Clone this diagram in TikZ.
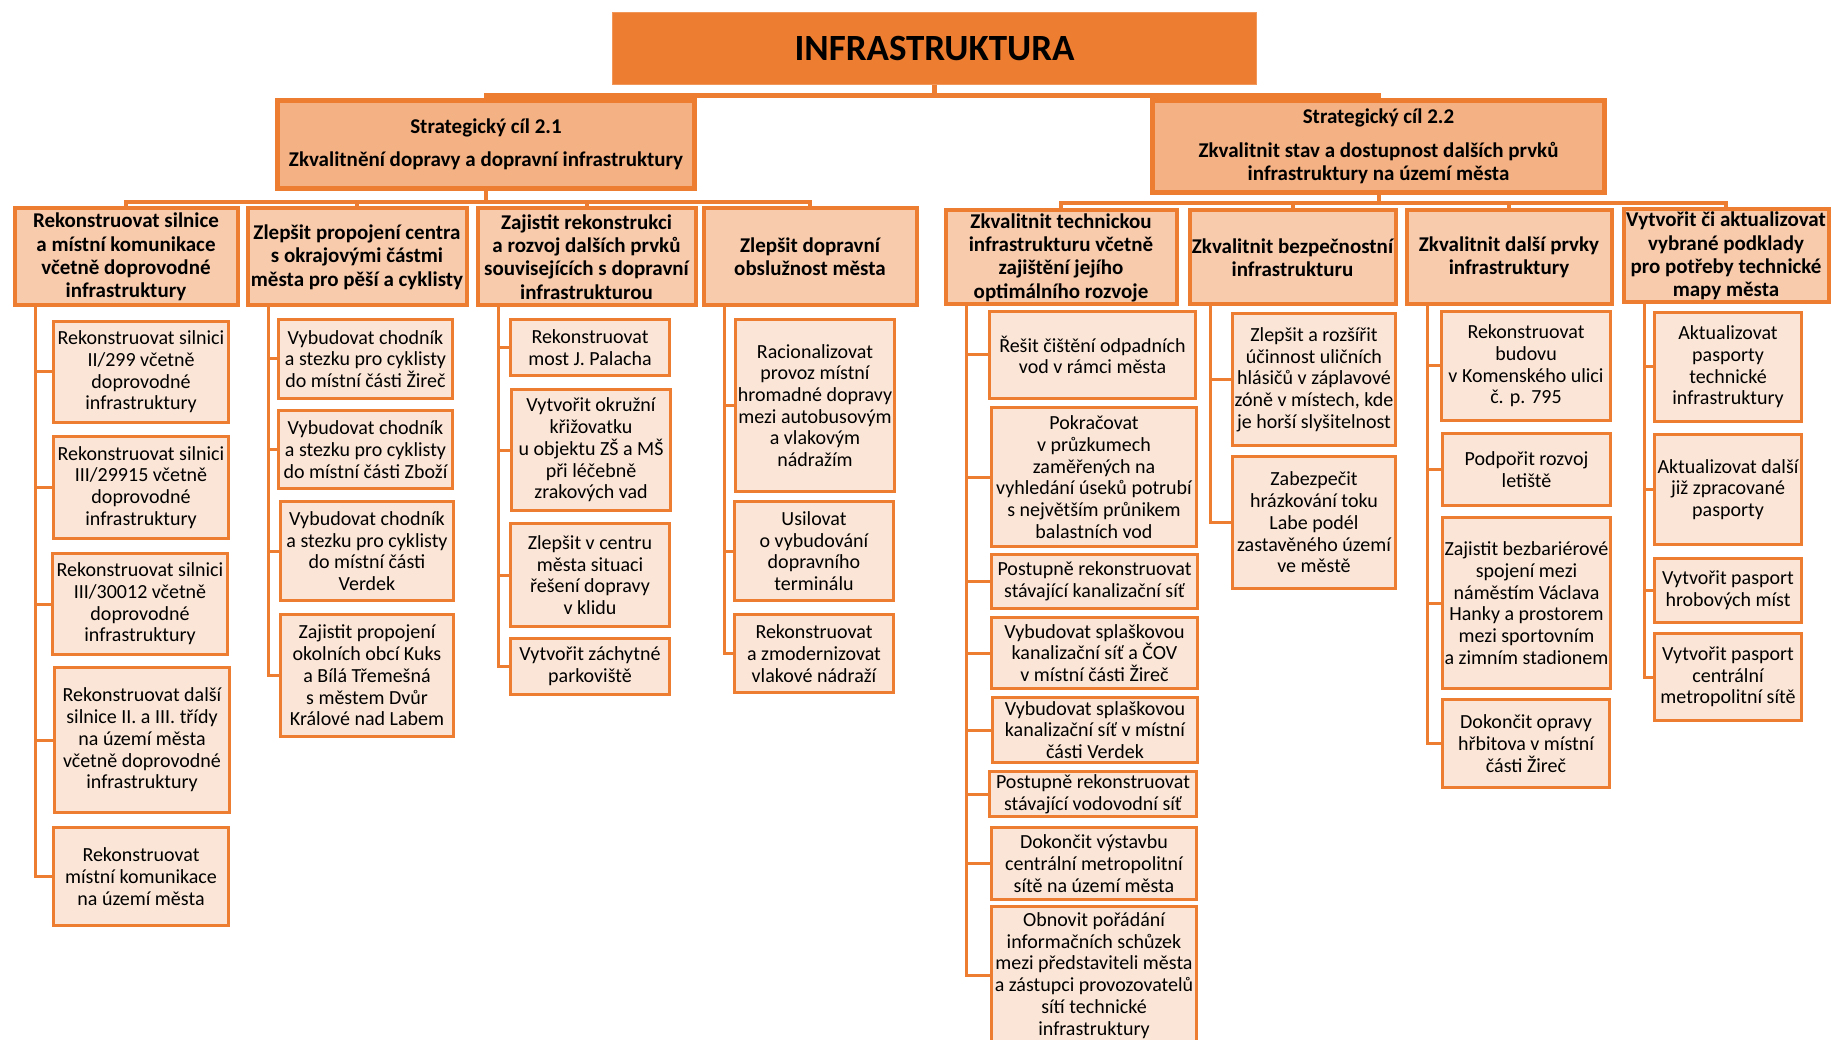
\documentclass[tikz,border=0pt]{standalone}
\usepackage{fontspec}
\setmainfont{Carlito}
\usetikzlibrary{calc}
\definecolor{org}{HTML}{ED7D31}
\definecolor{fone}{HTML}{F4B183}
\definecolor{ftwo}{HTML}{F8CBAD}
\definecolor{fthree}{HTML}{FBE5D6}
\tikzset{
  box/.style={draw=org, rectangle, align=center, inner sep=1pt, text=black},
  rootbox/.style={box, fill=org, draw=org!80!white, line width=1pt, font=\bfseries\fontsize{37}{44}\selectfont},
  goalbox/.style={box, fill=fone, line width=5pt, font=\bfseries\fontsize{21}{23.3}\selectfont},
  midbox/.style={box, fill=ftwo, line width=4pt, font=\bfseries\fontsize{21}{23.3}\selectfont},
  leafbox/.style={box, fill=fthree, line width=3pt, font=\fontsize{20}{21.7}\selectfont},
  conn/.style={draw=org, line width=3pt},
  conntwo/.style={draw=org, line width=4pt},
  connone/.style={draw=org, line width=5pt},
}
\newcommand{\bx}[7]{\node[#1, minimum width={(#5-#3-3)*1pt}, minimum height={(#6-#4-3)*1pt}] (#2) at ({(#3+#5)/2},{(#4+#6)/2}) {#7};}
\begin{document}
\begin{tikzpicture}[x=1pt,y=-1pt]
\useasboundingbox (0,0) rectangle (1831,1040);
\fill[white] (0,0) rectangle (1831,1040);
\clip (0,0) rectangle (1831,1040);
% root and goals
\bx{rootbox}{R}{611}{11}{1258}{86}{INFRASTRUKTURA}
\bx{goalbox}{S21}{276}{99}{696}{190}{Strategický cíl 2.1\\[10pt]Zkvalitnění dopravy a dopravní infrastruktury}
\bx{goalbox}{S22}{1151}{99}{1606}{194}{Strategický cíl 2.2\\[10pt]Zkvalitnit stav a dostupnost dalších prvků\\infrastruktury na území města}
% level 2
\bx{midbox}{A1}{13}{207}{239}{307}{Rekonstruovat silnice\\a místní komunikace\\včetně doprovodné\\infrastruktury}
\bx{midbox}{A2}{246}{207}{468}{307}{Zlepšit propojení centra\\s okrajovými částmi\\města pro pěší a cyklisty}
\bx{midbox}{A3}{476}{207}{697}{307}{Zajistit rekonstrukci\\a rozvoj dalších prvků\\souvisejících s dopravní\\infrastrukturou}
\bx{midbox}{A4}{702}{207}{918}{307}{Zlepšit dopravní\\obslužnost města}
\bx{midbox}{B1}{944}{209}{1178}{306}{Zkvalitnit technickou\\infrastrukturu včetně\\zajištění jejího\\optimálního rozvoje}
\bx{midbox}{B2}{1188}{209}{1397}{306}{Zkvalitnit bezpečnostní\\infrastrukturu}
\bx{midbox}{B3}{1405}{209}{1613}{306}{Zkvalitnit další prvky\\infrastruktury}
\bx{midbox}{B4}{1622}{208}{1830}{304}{Vytvořit či aktualizovat\\vybrané podklady\\pro potřeby technické\\mapy města}
% leaves A1
\bx{leafbox}{L1}{52}{320}{230}{424}{Rekonstruovat silnici\\II/299 včetně\\doprovodné\\infrastruktury}
\bx{leafbox}{L2}{52}{435}{230}{540}{Rekonstruovat silnici\\III/29915 včetně\\doprovodné\\infrastruktury}
\bx{leafbox}{L3}{51}{552}{229}{656}{Rekonstruovat silnici\\III/30012 včetně\\doprovodné\\infrastruktury}
\bx{leafbox}{L4}{53}{666}{231}{814}{Rekonstruovat další\\silnice II. a III. třídy\\na území města\\včetně doprovodné\\infrastruktury}
\bx{leafbox}{L5}{52}{826}{230}{927}{Rekonstruovat\\místní komunikace\\na území města}
% leaves A2
\bx{leafbox}{M1}{277}{318}{454}{400}{Vybudovat chodník\\a stezku pro cyklisty\\do místní části Žireč}
\bx{leafbox}{M2}{277}{409}{454}{490}{Vybudovat chodník\\a stezku pro cyklisty\\do místní části Zboží}
\bx{leafbox}{M3}{279}{500}{455}{602}{Vybudovat chodník\\a stezku pro cyklisty\\do místní části\\Verdek}
\bx{leafbox}{M4}{279}{613}{455}{738}{Zajistit propojení\\okolních obcí Kuks\\a Bílá Třemešná\\s městem Dvůr\\Králové nad Labem}
% leaves A3
\bx{leafbox}{N1}{509}{318}{671}{377}{Rekonstruovat\\most J. Palacha}
\bx{leafbox}{N2}{510}{388}{672}{512}{Vytvořit okružní\\křižovatku\\u objektu ZŠ a MŠ\\při léčebně\\zrakových vad}
\bx{leafbox}{N3}{509}{522}{671}{628}{Zlepšit v centru\\města situaci\\řešení dopravy\\v klidu}
\bx{leafbox}{N4}{509}{637}{671}{696}{Vytvořit záchytné\\parkoviště}
% leaves A4
\bx{leafbox}{P1}{734}{318}{896}{493}{Racionalizovat\\provoz místní\\hromadné dopravy\\mezi autobusovým\\a vlakovým\\nádražím}
\bx{leafbox}{P2}{733}{500}{895}{602}{Usilovat\\o vybudování\\dopravního\\terminálu}
\bx{leafbox}{P3}{733}{613}{895}{694}{Rekonstruovat\\a zmodernizovat\\vlakové nádraží}
% leaves B1
\bx{leafbox}{Q1}{988}{310}{1197}{400}{Řešit čištění odpadních\\vod v rámci města}
\bx{leafbox}{Q2}{990}{406}{1198}{548}{Pokračovat\\v průzkumech\\zaměřených na\\vyhledání úseků potrubí\\s největším průnikem\\balastních vod}
\bx{leafbox}{Q3}{990}{553}{1199}{610}{Postupně rekonstruovat\\stávající kanalizační síť}
\bx{leafbox}{Q4}{990}{616}{1199}{690}{Vybudovat splaškovou\\kanalizační síť a ČOV\\v místní části Žireč}
\bx{leafbox}{Q5}{991}{696}{1199}{764}{Vybudovat splaškovou\\kanalizační síť v místní\\části Verdek}
\bx{leafbox}{Q6}{988}{770}{1198}{818}{Postupně rekonstruovat\\stávající vodovodní síť}
\bx{leafbox}{Q7}{990}{826}{1198}{901}{Dokončit výstavbu\\centrální metropolitní\\sítě na území města}
\bx{leafbox}{Q8}{990}{905}{1198}{1046}{Obnovit pořádání\\informačních schůzek\\mezi představiteli města\\a zástupci provozovatelů\\sítí technické\\infrastruktury}
% leaves B2
\bx{leafbox}{V1}{1231}{312}{1397}{447}{Zlepšit a rozšířit\\účinnost uličních\\hlásičů v záplavové\\zóně v místech, kde\\je horší slyšitelnost}
\bx{leafbox}{V2}{1231}{455}{1397}{590}{Zabezpečit\\hrázkování toku\\Labe podél\\zastavěného území\\ve městě}
% leaves B3
\bx{leafbox}{W1}{1440}{310}{1612}{422}{Rekonstruovat\\budovu\\v Komenského ulici\\č. p. 795}
\bx{leafbox}{W2}{1441}{432}{1612}{507}{Podpořit rozvoj\\letiště}
\bx{leafbox}{W3}{1441}{516}{1612}{690}{Zajistit bezbariérové\\spojení mezi\\náměstím Václava\\Hanky a prostorem\\mezi sportovním\\a zimním stadionem}
\bx{leafbox}{W4}{1441}{698}{1611}{789}{Dokončit opravy\\hřbitova v místní\\části Žireč}
% leaves B4
\bx{leafbox}{T1}{1653}{311}{1803}{423}{Aktualizovat\\pasporty\\technické\\infrastruktury}
\bx{leafbox}{T2}{1653}{433}{1803}{546}{Aktualizovat další\\již zpracované\\pasporty}
\bx{leafbox}{T3}{1653}{557}{1803}{624}{Vytvořit pasport\\hrobových míst}
\bx{leafbox}{T4}{1653}{632}{1803}{722}{Vytvořit pasport\\centrální\\metropolitní sítě}
% top connectors
\coordinate (topbar) at (0,95.5);
\coordinate (barone) at (0,202);
\coordinate (bartwo) at (0,203);
\draw[connone] (R.south) -- (R.south |- topbar) -| (S21.north);
\draw[connone] (R.south |- topbar) -| (S22.north);
\foreach \c in {A1,A2,A3,A4}{\draw[conntwo] (S21.south) -- (S21.south |- barone) -| (\c.north);}
\foreach \c in {B1,B2,B3,B4}{\draw[conntwo] (S22.south) -- (S22.south |- bartwo) -| (\c.north);}
% trunks
\foreach \p/\last/\others in {A1/L5/{L1,L2,L3,L4}, A2/M4/{M1,M2,M3}, A3/N4/{N1,N2,N3}, A4/P3/{P1,P2}, B1/Q8/{Q1,Q2,Q3,Q4,Q5,Q6,Q7}, B2/V2/{V1}, B3/W4/{W1,W2,W3}, B4/T4/{T1,T2,T3}}{
  \coordinate (t\p) at ([xshift=23pt]\p.south west);
  \draw[conn] (t\p) |- (\last.west);
  \foreach \n in \others {\draw[conn] (\n.west) -- (\n.west -| t\p);}
}
\end{tikzpicture}
\end{document}
